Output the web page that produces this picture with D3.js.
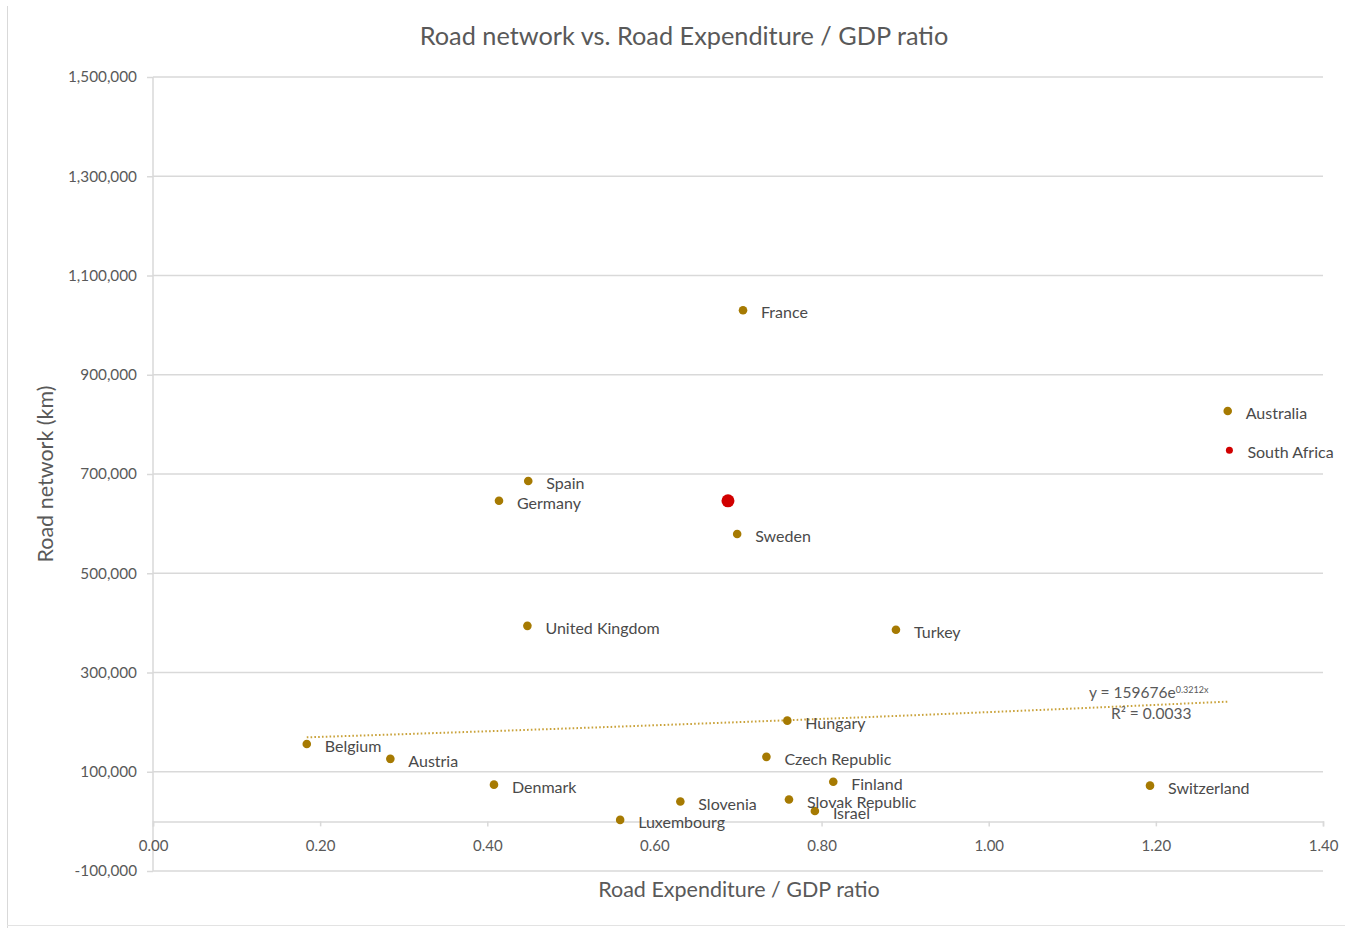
<!DOCTYPE html>
<html>
<head>
<meta charset="utf-8">
<script src="https://cdn.jsdelivr.net/npm/d3@7"></script>
<style>
  html, body { margin: 0; padding: 0; background: #fff; }
  svg { display: block; font-family: Lato, "Open Sans", "Noto Sans", sans-serif; }
</style>
</head>
<body>
<svg id="chart" width="1345" height="928"></svg>
<script>
// Countries, road expenditure as share of GDP (%), and road network length (km)
const countries = ["Belgium", "Austria", "Denmark", "Luxembourg", "Slovenia", "Czech Republic",
  "Hungary", "Slovak Republic", "Israel", "Finland", "Switzerland", "United Kingdom", "Turkey",
  "Spain", "Germany", "Sweden", "France", "Australia", "South Africa"];
const expenditureRatio = [0.184, 0.284, 0.408, 0.559, 0.631, 0.734,
  0.759, 0.761, 0.792, 0.814, 1.193, 0.448, 0.889,
  0.449, 0.414, 0.699, 0.706, 1.286, 1.288];
const roadNetworkKm = [156000, 126000, 74000, 3000, 40000, 130000,
  203000, 44000, 21000, 80000, 72000, 394000, 386000,
  686000, 646000, 579000, 1030000, 827000, 748000];
const highlightedCountry = "South Africa";

// Group average marker (unlabelled)
const averageRatio = [0.688];
const averageNetworkKm = [646000];

// Exponential trendline fitted to the series
const trendCoefA = 159676;
const trendCoefB = 0.3212;
const trendEquation = ["y = 159676e", "0.3212x"];
const trendR2 = "R² = 0.0033";

// Axis ticks
const xTicks = [0, 0.2, 0.4, 0.6, 0.8, 1.0, 1.2, 1.4];
const yTicks = [-100000, 100000, 300000, 500000, 700000, 900000, 1100000, 1300000, 1500000];

const chartTitle = "Road network vs. Road Expenditure / GDP ratio";
const xTitle = "Road Expenditure / GDP ratio";
const yTitle = "Road network (km)";

const gold = "#A67A02";
const red = "#D10000";
const gridColor = "#D9D9D9";
const textColor = "#595959";

const svg = d3.select("#chart");

// Sheet frame around the chart object
svg.append("line").attr("x1", 7.5).attr("x2", 7.5).attr("y1", 6).attr("y2", 928)
  .attr("stroke", "#D9D9D9").attr("stroke-width", 1);
svg.append("line").attr("x1", 7).attr("x2", 1345).attr("y1", 925.5).attr("y2", 925.5)
  .attr("stroke", "#E3E3E3").attr("stroke-width", 1);

const x = d3.scaleLinear().domain([0, 1.4]).range([153, 1323]);
const y = d3.scaleLinear().domain([-100000, 1500000]).range([871, 77]);

// Horizontal gridlines
svg.append("g").selectAll("line").data(yTicks).join("line")
  .attr("x1", x(0)).attr("x2", x(1.4))
  .attr("y1", d => y(d)).attr("y2", d => y(d))
  .attr("stroke", gridColor).attr("stroke-width", 1.5);

// Vertical axis line
svg.append("line").attr("x1", x(0)).attr("x2", x(0))
  .attr("y1", y(1500000)).attr("y2", y(-100000))
  .attr("stroke", gridColor).attr("stroke-width", 1.5);

// Horizontal axis at zero with tick marks
const xAxis = d3.axisBottom(x).tickValues(xTicks).tickFormat(d3.format(".2f"))
  .tickSize(5).tickPadding(14);
const gx = svg.append("g").attr("transform", `translate(0,${y(0)})`).call(xAxis);
gx.select(".domain").attr("stroke", gridColor).attr("stroke-width", 1.5);
gx.selectAll(".tick line").attr("stroke", gridColor).attr("stroke-width", 1.5);
gx.selectAll(".tick text").attr("fill", textColor).attr("font-size", 15)
  .attr("font-family", "Lato, sans-serif");

// Vertical axis labels (plain hyphen for negatives)
const fmtY = v => d3.format(",")(v).replace("\u2212", "-");
const yAxis = d3.axisLeft(y).tickValues(yTicks).tickFormat(fmtY).tickSize(6).tickPadding(10);
const gy = svg.append("g").attr("transform", `translate(${x(0)},0)`).call(yAxis);
gy.select(".domain").remove();
gy.selectAll(".tick line").attr("stroke", gridColor).attr("stroke-width", 1.5);
gy.selectAll(".tick text").attr("fill", textColor).attr("font-size", 15.3)
  .attr("font-family", "Lato, sans-serif");

// Trendline
const xMin = d3.min(expenditureRatio), xMax = d3.max(expenditureRatio);
const trendPts = d3.range(0, 101).map(i => {
  const t = xMin + (xMax - xMin) * i / 100;
  return [t, trendCoefA * Math.exp(trendCoefB * t)];
});
svg.append("path")
  .attr("d", d3.line().x(d => x(d[0])).y(d => y(d[1]))(trendPts))
  .attr("fill", "none").attr("stroke", "#C9A23A").attr("stroke-width", 2)
  .attr("stroke-dasharray", "1.6,2.2");

// Trendline equation
const eq = svg.append("text").attr("x", 1089).attr("y", 698)
  .attr("fill", textColor).attr("font-size", 15.5);
eq.append("tspan").text(trendEquation[0]);
eq.append("tspan").attr("font-size", 9).attr("dy", -5).text(trendEquation[1]);
svg.append("text").attr("x", 1111).attr("y", 719).attr("fill", textColor)
  .attr("font-size", 15.5).text(trendR2);

// Points
const data = countries.map((c, i) => ({ c, xv: expenditureRatio[i], yv: roadNetworkKm[i] }));
svg.append("g").selectAll("circle").data(data).join("circle")
  .attr("cx", d => x(d.xv)).attr("cy", d => y(d.yv))
  .attr("r", d => d.c === highlightedCountry ? 3.5 : 4.3)
  .attr("fill", d => d.c === highlightedCountry ? red : gold);

svg.append("g").selectAll("circle").data(averageRatio).join("circle")
  .attr("cx", (d) => x(d)).attr("cy", (d, i) => y(averageNetworkKm[i]))
  .attr("r", 6.5).attr("fill", red);

// Data labels
svg.append("g").selectAll("text").data(data).join("text")
  .attr("x", d => x(d.xv) + 18).attr("y", d => y(d.yv) + 8)
  .attr("fill", "#4A4A4A").attr("font-size", 16)
  .text(d => d.c);

// Titles
svg.append("text").attr("x", 684).attr("y", 45).attr("text-anchor", "middle")
  .attr("fill", textColor).attr("font-size", 25.3).text(chartTitle);
svg.append("text").attr("x", 739).attr("y", 897).attr("text-anchor", "middle")
  .attr("fill", textColor).attr("font-size", 21.5).text(xTitle);
svg.append("text").attr("transform", "translate(53,474) rotate(-90)")
  .attr("text-anchor", "middle").attr("fill", textColor).attr("font-size", 21.5).text(yTitle);
</script>
</body>
</html>
